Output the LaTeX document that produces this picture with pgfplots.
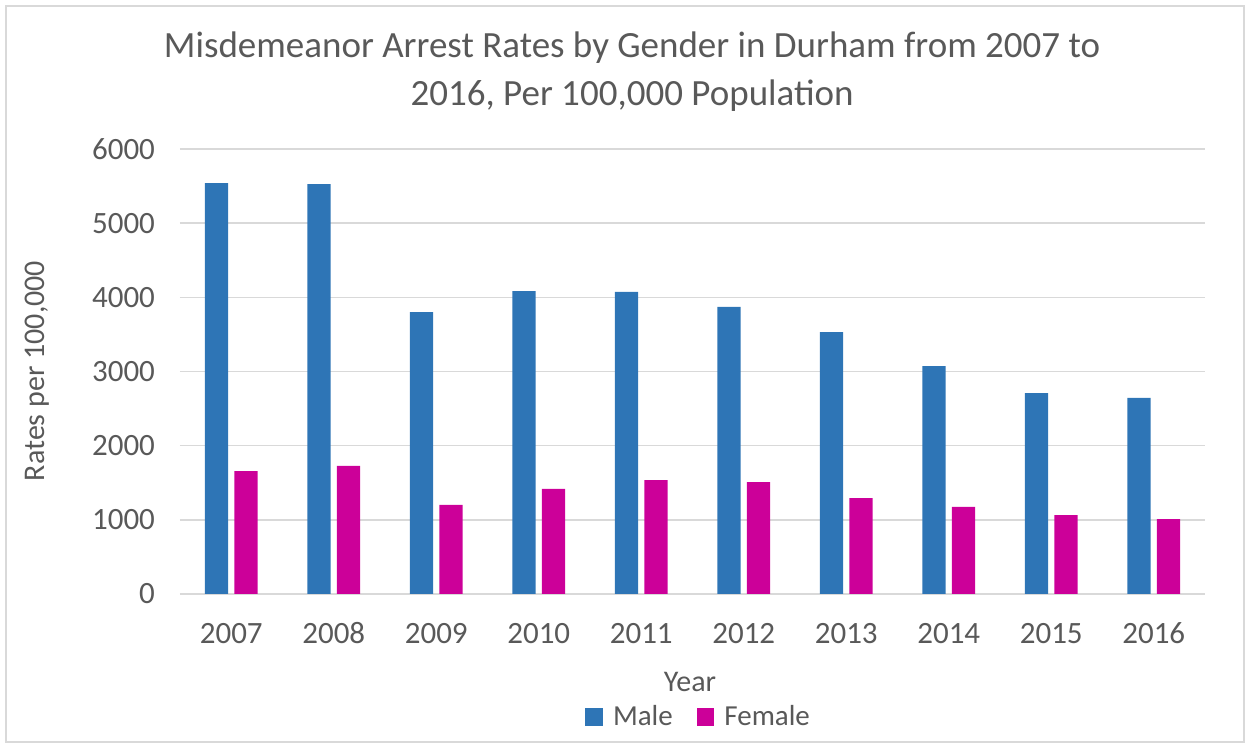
\documentclass[border=0pt]{standalone}
\usepackage{pgfplots}
\pgfplotsset{compat=1.18}
\usepackage{fontspec}
\setmainfont{Carlito}
\definecolor{maleblue}{HTML}{2E75B6}
\definecolor{femmag}{HTML}{CC0099}
\definecolor{txt}{HTML}{595959}
\definecolor{gridc}{HTML}{D9D9D9}
\begin{document}
\begin{tikzpicture}
\path[use as bounding box] (-90pt,-77pt) rectangle (535pt,297pt);
\draw[gridc, line width=0.8pt] (-87pt,-74pt) rectangle (532pt,294pt);
\begin{axis}[
  at={(0pt,0pt)}, anchor=south west,
  scale only axis, width=512.5pt, height=222.5pt,
  xmin=-0.5, xmax=9.5, ymin=0, ymax=6000,
  xtick={0,...,9},
  xticklabels={2007,2008,2009,2010,2011,2012,2013,2014,2015,2016},
  ytick={0,1000,...,6000},
  ymajorgrids, grid style={gridc, line width=0.75pt},
  axis line style={draw=none},
  major tick length=0pt,
  /pgf/number format/assume math mode=true,
  /pgf/number format/1000 sep={},
  tick label style={font=\fontsize{15.5}{18}\selectfont, text=txt},
  yticklabel style={xshift=-9pt},
  xticklabel style={yshift=-10pt, text height=11pt, text depth=0pt},
  ybar, bar width=11.6pt,
  legend style={at={(0.507,-0.276)}, anchor=center, draw=none, legend columns=2,
    font=\fontsize{14.5}{16}\selectfont, text=txt,
    /tikz/every odd column/.append style={column sep=3pt},
    /tikz/every even column/.append style={column sep=10pt}},
  legend image code/.code={\fill[#1] (0pt,-4.4pt) rectangle (8.8pt,4.4pt);},
]
\addplot[fill=maleblue, draw=none, bar shift=-7.35pt] coordinates {
 (0,5541) (1,5528) (2,3802) (3,4085) (4,4072) (5,3870) (6,3532) (7,3074) (8,2710) (9,2643)};
\addplot[fill=femmag, draw=none, bar shift=7.35pt] coordinates {
 (0,1658) (1,1726) (2,1200) (3,1416) (4,1537) (5,1510) (6,1294) (7,1173) (8,1065) (9,1011)};
\legend{Male,Female}
\end{axis}
\node[text=txt, align=center, font=\fontsize{18.5}{24}\selectfont] at (226pt,261pt)
  {Misdemeanor Arrest Rates by Gender in Durham from 2007 to\\2016, Per 100,000 Population};
\node[text=txt, rotate=90, font=\fontsize{15}{18}\selectfont] at (-71.5pt,111.5pt) {Rates per 100,000};
\node[text=txt, font=\fontsize{15}{18}\selectfont] at (255pt,-44pt) {Year};
\end{tikzpicture}
\end{document}
